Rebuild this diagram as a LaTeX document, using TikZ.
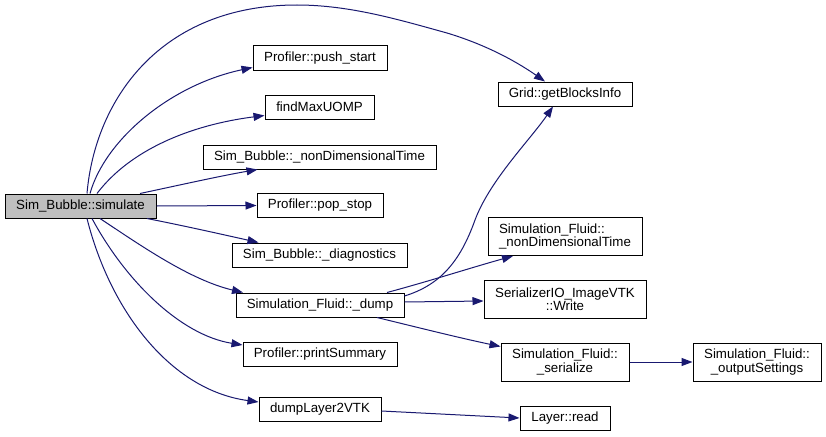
\documentclass[tikz,border=0pt]{standalone}
\usepackage{fontspec}
\setmainfont{Liberation Sans}
\usetikzlibrary{arrows.meta,calc}
\definecolor{edgec}{HTML}{191970}
\definecolor{nodegray}{HTML}{BFBFBF}
\begin{document}
\begin{tikzpicture}[x=1pt,y=-1pt,
  box/.style={draw=black,line width=1pt,fill=white,inner sep=0pt,minimum height=24pt,
    font=\fontsize{13.3}{12}\selectfont,align=center},
  tall/.style={box,minimum height=38pt},
  edge/.style={draw=edgec,line width=1pt,-{Triangle[length=11pt,width=8pt]}}]
\path[use as bounding box,fill=white] (0,0) rectangle (826,436);

\node[box,fill=nodegray,minimum width=151pt] (sim) at (80.5,206) {Sim\_Bubble::simulate};
\node[box,minimum width=134pt] (push) at (320,58) {Profiler::push\_start};
\node[box,minimum width=109pt] (fmax) at (319.5,107) {findMaxUOMP};
\node[box,minimum width=233pt] (sbnd) at (319.5,157) {Sim\_Bubble::\_nonDimensionalTime};
\node[box,minimum width=126pt] (pop) at (320,205.5) {Profiler::pop\_stop};
\node[box,minimum width=175pt] (diag) at (319.5,255) {Sim\_Bubble::\_diagnostics};
\node[box,minimum width=168pt] (dump) at (320,305) {Simulation\_Fluid::\_dump};
\node[box,minimum width=154pt] (prnt) at (320,354) {Profiler::printSummary};
\node[box,minimum width=122pt] (dlv) at (320,409) {dumpLayer2VTK};
\node[box,minimum width=134pt] (grid) at (565,94) {Grid::getBlocksInfo};
\node[tall,minimum width=154pt,align=left] (sfnd) at (565,236.5) {Simulation\_Fluid::\\\_nonDimensionalTime};
\node[tall,minimum width=162pt] (wrt) at (565,299) {SerializerIO\_ImageVTK\\::Write};
\node[tall,minimum width=128pt] (ser) at (565,362) {Simulation\_Fluid::\\\_serialize};
\node[tall,minimum width=128pt] (outs) at (757,362) {Simulation\_Fluid::\\\_outputSettings};
\node[box,minimum width=90pt] (layer) at (565,418) {Layer::read};

% edges from simulate
\draw[edge] ($(sim.north)+(6.5,0)$) .. controls (95,100) and (160,5) .. (297,5)
  .. controls (350,5) and (400,20) .. (447,33)
  .. controls (490,46) and (520,64) .. ($(grid.north)+(-20,0)$);
\draw[edge] ($(sim.north)+(9.5,0)$) .. controls (105,140) and (170,85) .. ($(push.south west)+(0,-3)$);
\draw[edge] ($(sim.north)+(16.5,0)$) .. controls (130,150) and (190,125) .. ($(fmax.south west)+(0,-4)$);
\draw[edge] ($(sim.north)+(59.5,0)$) .. controls (180,185) and (220,176) .. ($(sbnd.south)+(-62,0)$);
\draw[edge] (sim.east) -- (pop.west);
\draw[edge] ($(sim.south)+(66.5,0)$) .. controls (185,226) and (225,235) .. ($(diag.north)+(-61,0)$);
\draw[edge] ($(sim.south)+(19.5,0)$) .. controls (140,245) and (190,280) .. ($(dump.north)+(-77,0)$);
\draw[edge] ($(sim.south)+(11.5,0)$) .. controls (125,280) and (180,335) .. ($(prnt.west)+(0,-9)$);
\draw[edge] ($(sim.south)+(6.5,0)$) .. controls (110,310) and (170,390) .. ($(dlv.west)+(0,-7)$);

% edges from dump
\draw[edge] ($(dump.east)+(0,-9)$) .. controls (440,285) and (460,262) .. (475,220)
  .. controls (490,180) and (530,140) .. ($(grid.south)+(-12,0)$);
\draw[edge] ($(dump.north)+(67,0)$) .. controls (430,281) and (470,268) .. ($(sfnd.south)+(-52,0)$);
\draw[edge] ($(dump.east)+(0,-3)$) -- ($(wrt.west)+(0,2)$);
\draw[edge] ($(dump.south)+(57,0)$) .. controls (420,328) and (460,338) .. ($(ser.north west)+(0,4)$);

\draw[edge] ($(dlv.east)+(0,2)$) -- (layer.west);
\draw[edge] (ser.east) -- (outs.west);
\end{tikzpicture}
\end{document}
